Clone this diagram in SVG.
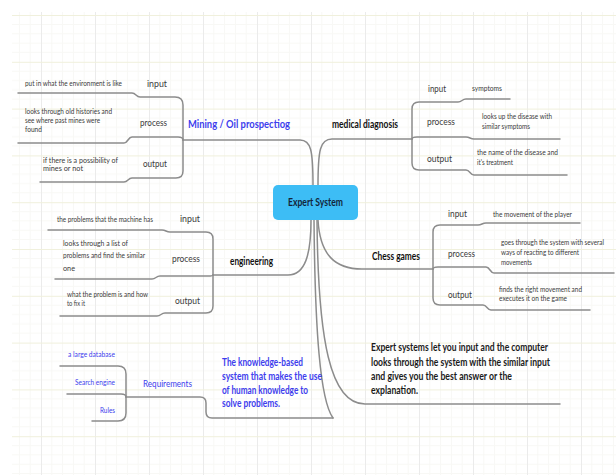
<svg xmlns="http://www.w3.org/2000/svg" width="616" height="475" viewBox="0 0 616 475">
<style>
text { font-family: Lato, "Open Sans", "Liberation Sans", sans-serif; }
.leaf { font-size: 7.5px; fill: #3a3a3a; }
.sub { font-size: 10px; fill: #3a3a3a; }
.main { font-size: 10.5px; font-weight: bold; fill: #111; }
.para { font-size: 11px; font-weight: bold; fill: #1a1a1a; }
.blue { fill: #3d3ded; }
.conn { fill: none; stroke: #8c8c8c; stroke-width: 1.5; stroke-linecap: round; stroke-linejoin: round; }
</style>
<defs>
<pattern id="grid" patternUnits="userSpaceOnUse" x="41" y="15" width="54" height="46.8">
<g stroke="#f8f8f5" stroke-width="1">
<line x1="10.8" y1="0" x2="10.8" y2="46.8"/>
<line x1="21.6" y1="0" x2="21.6" y2="46.8"/>
<line x1="32.4" y1="0" x2="32.4" y2="46.8"/>
<line x1="43.2" y1="0" x2="43.2" y2="46.8"/>
<line x1="0" y1="9.36" x2="54" y2="9.36"/>
<line x1="0" y1="18.72" x2="54" y2="18.72"/>
<line x1="0" y1="28.08" x2="54" y2="28.08"/>
<line x1="0" y1="37.44" x2="54" y2="37.44"/>
</g>
<line x1="0.5" y1="0" x2="0.5" y2="46.8" stroke="#ebebeb" stroke-width="1"/>
<line x1="0" y1="0.5" x2="54" y2="0.5" stroke="#f0f0dc" stroke-width="1"/>
</pattern>
</defs>
<rect x="0" y="0" width="616" height="475" fill="#ffffff"/>
<rect x="12" y="12" width="604" height="463" fill="url(#grid)"/>

<g id="connectors" class="conn">
<path d="M313 186 C313 150 311 140 300 140 L183 140"/>
<path d="M318 186 C318 150 320 139 332 139 L412 139"/>
<path d="M311 220 C311 255 305 275 288 275 L213 275"/>
<path d="M318 220 C320 255 335 269 362 269 L433 269"/>
<path d="M314 220 C315 330 320 400 333 418"/>
<path d="M317 220 C318 340 330 404 365 404 L560 404"/>
<path d="M183 140 V105 Q183 97 175 97 H140 C136 97 136 93 132 93 H18"/>
<path d="M183 140 Q183 137 178 137 H132 C128 137 128 143 124 143 H18"/>
<path d="M183 140 V171 Q183 178 176 178 H132 C128 178 128 182 124 182 H40"/>
<path d="M412 139 V109 Q412 102 419 102 H458 C462 102 462 99 466 99 H510"/>
<path d="M412 139 Q412 137 417 137 H466 C470 137 470 139 474 139 H560"/>
<path d="M412 139 V163 Q412 170 419 170 H466 C470 170 470 175 474 175 H567"/>
<path d="M213 275 V239 Q213 232 206 232 H170 C166 232 166 230 162 230 H48"/>
<path d="M213 275 Q213 276 208 276 H160 C156 276 156 279 152 279 H55"/>
<path d="M213 275 V306 Q213 313 206 313 H165 C161 313 161 316 157 316 H60"/>
<path d="M433 269 V232 Q433 225 440 225 H478 C482 225 482 223 486 223 H580"/>
<path d="M433 269 Q433 267 438 267 H486 C490 267 490 273 494 273 H614"/>
<path d="M433 269 V298 Q433 305 440 305 H483 C487 305 487 310 491 310 H590"/>
<path d="M333 418 H212 Q206 418 206 412 V403 Q206 397 200 397 H126"/>
<path d="M126 397 V374 Q126 366 118 366 H60"/>
<path d="M126 397 Q126 394 121 394 H67"/>
<path d="M126 397 V413 Q126 421 118 421 H92"/>
</g>

<g id="expert-system">
<rect x="273" y="185" width="85" height="35" rx="5" fill="#3dbdf5"/>
<text class="main" x="315.5" y="206" text-anchor="middle" textLength="55" lengthAdjust="spacingAndGlyphs" style="fill:#13253a">Expert System</text>
</g>

<g id="mining">
<text class="main blue" x="188" y="128" textLength="102" lengthAdjust="spacingAndGlyphs">Mining / Oil prospectiog</text>
</g>
<g id="mining-input">
<text class="sub" x="147" y="86.5" textLength="20" lengthAdjust="spacingAndGlyphs">input</text>
</g>
<g id="mining-input-leaf">
<text class="leaf" x="25" y="85.5" textLength="97" lengthAdjust="spacingAndGlyphs">put in what the environment is like</text>
</g>
<g id="mining-process">
<text class="sub" x="140" y="125.5" textLength="27" lengthAdjust="spacingAndGlyphs">process</text>
</g>
<g id="mining-process-leaf">
<text class="leaf" x="25" y="113.5" textLength="87" lengthAdjust="spacingAndGlyphs">looks through old histories and</text>
<text class="leaf" x="25" y="122.5" textLength="75" lengthAdjust="spacingAndGlyphs">see where past mines were</text>
<text class="leaf" x="25" y="131.5" textLength="17" lengthAdjust="spacingAndGlyphs">found</text>
</g>
<g id="mining-output">
<text class="sub" x="143" y="166.5" textLength="24" lengthAdjust="spacingAndGlyphs">output</text>
</g>
<g id="mining-output-leaf">
<text class="leaf" x="43" y="162.5" textLength="75" lengthAdjust="spacingAndGlyphs">if there is a possibility of</text>
<text class="leaf" x="43" y="171" textLength="40" lengthAdjust="spacingAndGlyphs">mines or not</text>
</g>

<g id="medical">
<text class="main" x="332" y="128" textLength="66" lengthAdjust="spacingAndGlyphs">medical diagnosis</text>
</g>
<g id="medical-input">
<text class="sub" x="428" y="91.5" textLength="18" lengthAdjust="spacingAndGlyphs">input</text>
</g>
<g id="medical-input-leaf">
<text class="leaf" x="472" y="90.5" textLength="30" lengthAdjust="spacingAndGlyphs">symptoms</text>
</g>
<g id="medical-process">
<text class="sub" x="427" y="124.5" textLength="28" lengthAdjust="spacingAndGlyphs">process</text>
</g>
<g id="medical-process-leaf">
<text class="leaf" x="482" y="118.5" textLength="70" lengthAdjust="spacingAndGlyphs">looks up the disease with</text>
<text class="leaf" x="482" y="128.5" textLength="48" lengthAdjust="spacingAndGlyphs">similar symptoms</text>
</g>
<g id="medical-output">
<text class="sub" x="427" y="161.5" textLength="25" lengthAdjust="spacingAndGlyphs">output</text>
</g>
<g id="medical-output-leaf">
<text class="leaf" x="477" y="154.5" textLength="81" lengthAdjust="spacingAndGlyphs">the name of the disease and</text>
<text class="leaf" x="477" y="165" textLength="36" lengthAdjust="spacingAndGlyphs">it's treatment</text>
</g>

<g id="engineering">
<text class="main" x="230" y="264.5" textLength="43" lengthAdjust="spacingAndGlyphs">engineering</text>
</g>
<g id="engineering-input">
<text class="sub" x="180" y="221.5" textLength="20" lengthAdjust="spacingAndGlyphs">input</text>
</g>
<g id="engineering-input-leaf">
<text class="leaf" x="57" y="221.5" textLength="96" lengthAdjust="spacingAndGlyphs">the problems that the machine has</text>
</g>
<g id="engineering-process">
<text class="sub" x="172" y="261.5" textLength="28" lengthAdjust="spacingAndGlyphs">process</text>
</g>
<g id="engineering-process-leaf">
<text class="leaf" x="63" y="245.5" textLength="65" lengthAdjust="spacingAndGlyphs">looks through a list of</text>
<text class="leaf" x="63" y="258" textLength="82" lengthAdjust="spacingAndGlyphs">problems and find the similar</text>
<text class="leaf" x="63" y="270.5" textLength="12" lengthAdjust="spacingAndGlyphs">one</text>
</g>
<g id="engineering-output">
<text class="sub" x="175" y="303.5" textLength="25" lengthAdjust="spacingAndGlyphs">output</text>
</g>
<g id="engineering-output-leaf">
<text class="leaf" x="67" y="297" textLength="81" lengthAdjust="spacingAndGlyphs">what the problem is and how</text>
<text class="leaf" x="67" y="306" textLength="18" lengthAdjust="spacingAndGlyphs">to fix it</text>
</g>

<g id="chess">
<text class="main" x="372" y="259.5" textLength="48" lengthAdjust="spacingAndGlyphs">Chess games</text>
</g>
<g id="chess-input">
<text class="sub" x="448" y="216.5" textLength="19" lengthAdjust="spacingAndGlyphs">input</text>
</g>
<g id="chess-input-leaf">
<text class="leaf" x="493" y="216.5" textLength="79" lengthAdjust="spacingAndGlyphs">the movement of the player</text>
</g>
<g id="chess-process">
<text class="sub" x="448" y="256.5" textLength="27" lengthAdjust="spacingAndGlyphs">process</text>
</g>
<g id="chess-process-leaf">
<text class="leaf" x="501" y="244.5" textLength="103" lengthAdjust="spacingAndGlyphs">goes through the system with several</text>
<text class="leaf" x="501" y="254.5" textLength="78" lengthAdjust="spacingAndGlyphs">ways of reacting to different</text>
<text class="leaf" x="501" y="264.5" textLength="31" lengthAdjust="spacingAndGlyphs">movements</text>
</g>
<g id="chess-output">
<text class="sub" x="448" y="297.5" textLength="24" lengthAdjust="spacingAndGlyphs">output</text>
</g>
<g id="chess-output-leaf">
<text class="leaf" x="499" y="291.5" textLength="83" lengthAdjust="spacingAndGlyphs">finds the right movement and</text>
<text class="leaf" x="499" y="300.5" textLength="68" lengthAdjust="spacingAndGlyphs">executes it on the game</text>
</g>

<g id="knowledge">
<text class="para blue" x="222" y="366" textLength="81" lengthAdjust="spacingAndGlyphs">The knowledge-based</text>
<text class="para blue" x="222" y="380" textLength="100" lengthAdjust="spacingAndGlyphs">system that makes the use</text>
<text class="para blue" x="222" y="394" textLength="86" lengthAdjust="spacingAndGlyphs">of human knowledge to</text>
<text class="para blue" x="222" y="407" textLength="58" lengthAdjust="spacingAndGlyphs">solve problems.</text>
</g>
<g id="requirements">
<text class="sub blue" x="143" y="386.5" textLength="49" lengthAdjust="spacingAndGlyphs">Requirements</text>
</g>
<g id="req-database">
<text class="leaf blue" x="68" y="356.5" textLength="47" lengthAdjust="spacingAndGlyphs">a large database</text>
</g>
<g id="req-search">
<text class="leaf blue" x="75" y="384.5" textLength="40" lengthAdjust="spacingAndGlyphs">Search engine</text>
</g>
<g id="req-rules">
<text class="leaf blue" x="100" y="412.5" textLength="15" lengthAdjust="spacingAndGlyphs">Rules</text>
</g>

<g id="explanation">
<text class="para" x="371" y="351" textLength="177" lengthAdjust="spacingAndGlyphs">Expert systems let you input and the computer</text>
<text class="para" x="371" y="366" textLength="179" lengthAdjust="spacingAndGlyphs">looks through the system with the similar input</text>
<text class="para" x="371" y="380" textLength="141" lengthAdjust="spacingAndGlyphs">and gives you the best answer or the</text>
<text class="para" x="371" y="394" textLength="47" lengthAdjust="spacingAndGlyphs">explanation.</text>
</g>
</svg>
